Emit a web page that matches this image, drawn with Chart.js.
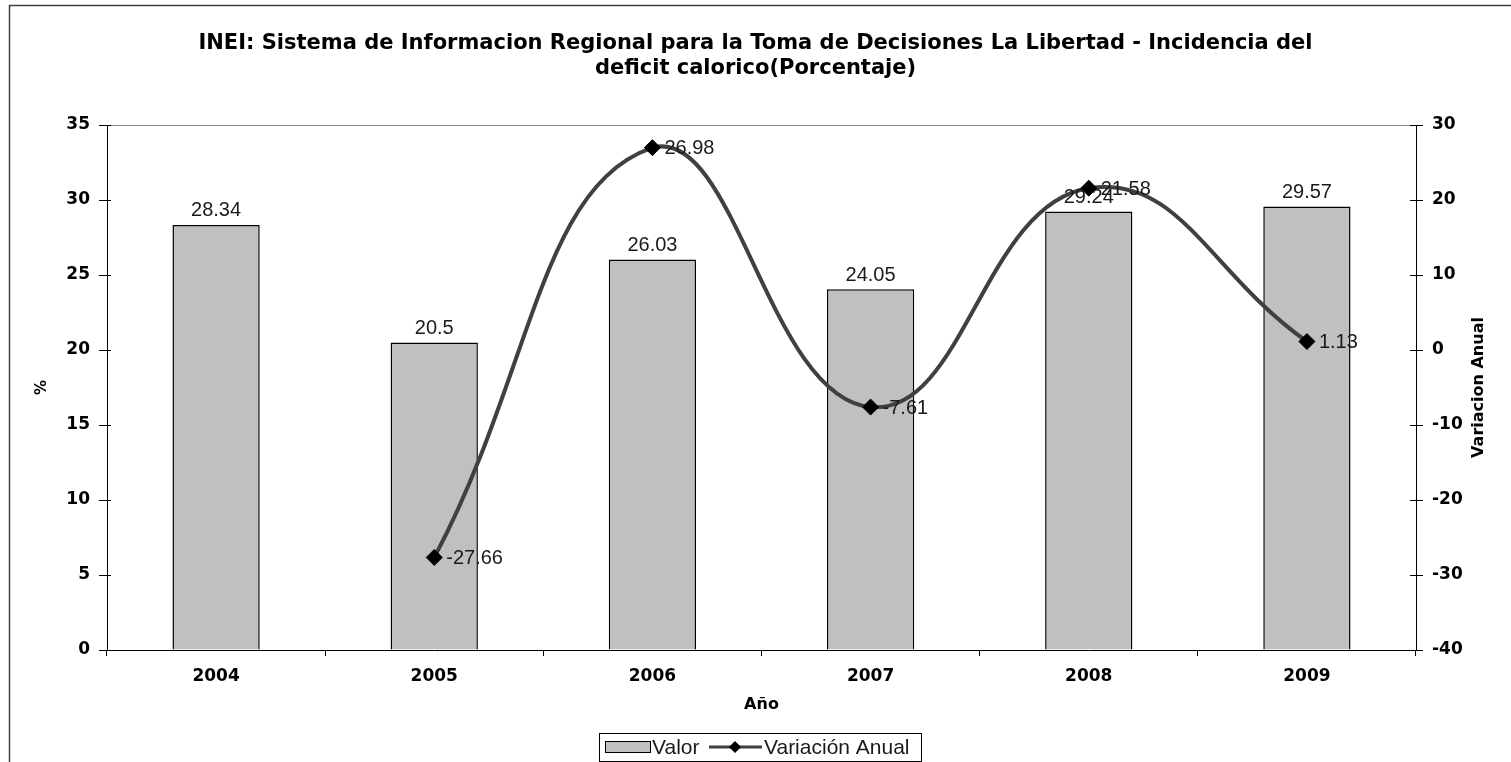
<!DOCTYPE html>
<html>
<head>
<meta charset="utf-8">
<script src="https://cdn.jsdelivr.net/npm/chart.js@4/dist/chart.umd.min.js"></script>
<style>
  body { margin: 0; background: #fff; }
</style>
</head>
<body>
<canvas id="grafico" width="1511" height="762"></canvas>
<script>
// datos del grafico
const anios = ['2004', '2005', '2006', '2007', '2008', '2009']
const valores = [28.34, 20.5, 26.03, 24.05, 29.24, 29.57]
const variacion = [null, -27.66, 26.98, -7.61, 21.58, 1.13]
const titulo = ['INEI: Sistema de Informacion Regional para la Toma de Decisiones La Libertad - Incidencia del',
    'deficit calorico(Porcentaje)']
const tituloDerecho = 'Variacion Anual'

const boldFont = 'DejaVu Sans'
const plainFont = 'Liberation Sans'

// borde exterior, etiquetas de datos y leyenda
const extras = {
    id: 'extras',
    beforeDraw(chart) {
        const c = chart.ctx
        c.save()
        c.fillStyle = '#fff'
        c.fillRect(0, 0, chart.width, chart.height)
        c.strokeStyle = '#404040'
        c.lineWidth = 1.5
        c.strokeRect(9.5, 5.5, chart.width + 20, chart.height + 20)
        c.restore()
    },
    afterDatasetsDraw(chart) {
        const c = chart.ctx
        c.save()
        c.font = '20px "' + plainFont + '"'
        c.fillStyle = '#1a1a1a'
        c.textBaseline = 'middle'

        const barMeta = chart.getDatasetMeta(0)
        c.textAlign = 'center'
        barMeta.data.forEach(function (bar, i) {
            c.fillText(String(chart.data.datasets[0].data[i]), bar.x, bar.y - 14)
        })

        const lineMeta = chart.getDatasetMeta(1)
        c.textAlign = 'left'
        lineMeta.data.forEach(function (pt, i) {
            const v = chart.data.datasets[1].data[i]
            if (v === null) return
            c.fillText(String(v), pt.x + 12, pt.y + 1)
        })
        c.restore()
    },
    afterDraw(chart) {
        const c = chart.ctx
        const ds = chart.data.datasets
        const area = chart.chartArea
        c.save()

        // marcas de eje que cruzan hacia adentro
        c.strokeStyle = '#000'
        c.lineWidth = 1
        const yl = chart.scales.y
        yl.ticks.forEach(function (t, i) {
            const py = Math.round(yl.getPixelForTick(i)) + 0.5
            c.beginPath(); c.moveTo(area.left, py); c.lineTo(area.left + 4, py); c.stroke()
        })
        const yr = chart.scales.y2
        yr.ticks.forEach(function (t, i) {
            const py = Math.round(yr.getPixelForTick(i)) + 0.5
            c.beginPath(); c.moveTo(area.right - 6, py); c.lineTo(area.right, py); c.stroke()
        })

        // titulo del eje derecho, girado como el izquierdo
        c.save()
        c.translate(1479, (area.top + area.bottom) / 2)
        c.rotate(-Math.PI / 2)
        c.font = 'bold 16px "' + boldFont + '"'
        c.fillStyle = '#000'
        c.textAlign = 'center'
        c.textBaseline = 'middle'
        c.fillText(tituloDerecho, 0, 0)
        c.restore()

        // leyenda con recuadro
        c.strokeStyle = '#000'
        c.lineWidth = 1
        c.strokeRect(599.5, 733.5, 322, 28)

        c.fillStyle = ds[0].backgroundColor
        c.fillRect(605.5, 741.5, 45, 11)
        c.strokeRect(605.5, 741.5, 45, 11)

        c.strokeStyle = ds[1].borderColor
        c.lineWidth = 3
        c.beginPath()
        c.moveTo(709, 747)
        c.lineTo(762, 747)
        c.stroke()
        c.fillStyle = '#000'
        c.beginPath()
        c.moveTo(735, 741)
        c.lineTo(741, 747)
        c.lineTo(735, 753)
        c.lineTo(729, 747)
        c.closePath()
        c.fill()

        c.font = '21px "' + plainFont + '"'
        c.fillStyle = '#1a1a1a'
        c.textBaseline = 'middle'
        c.textAlign = 'left'
        c.fillText(ds[0].label, 652, 748)
        c.fillText(ds[1].label, 764, 748)
        c.restore()
    }
}

const ctx = document.getElementById('grafico')
window.chart = new Chart(ctx, {
    data: {
        labels: anios,
        datasets: [{
            type: 'bar',
            label: 'Valor',
            yAxisID: 'y',
            data: valores,
            order: 1,
            backgroundColor: '#c0c0c0',
            borderColor: '#000',
            borderWidth: 1.5,
            barPercentage: 0.4,
            categoryPercentage: 1
        },
            {
                type: 'line',
                label: 'Variación Anual',
                yAxisID: 'y2',
                data: variacion,
                order: 0,
                borderColor: '#404040',
                borderWidth: 4,
                tension: 0.45,
                fill: false,
                pointStyle: 'rectRot',
                pointRadius: 8,
                pointBackgroundColor: '#000',
                pointBorderColor: '#000',
                pointBorderWidth: 1
            }
        ]
    },
    options: {
        responsive: false,
        animation: false,
        layout: { padding: 0 },
        plugins: {
            legend: { display: false },
            tooltip: { enabled: false },
            title: {
                display: true,
                text: titulo,
                color: '#000',
                font: { family: boldFont, weight: 'bold', size: 21, lineHeight: 25 / 21 },
                padding: { top: 31.5, bottom: 43.5 }
            }
        },
        scales: {
            x: {
                offset: true,
                grid: { offset: true, drawOnChartArea: false, tickLength: 6, color: '#000', tickColor: '#000' },
                border: { color: '#000', width: 1 },
                ticks: { color: '#000', padding: 10, font: { family: boldFont, weight: 'bold', size: 17 } },
                title: {
                    display: true, text: 'Año', color: '#000',
                    font: { family: boldFont, weight: 'bold', size: 16 },
                    padding: { top: 0, bottom: 48 }
                },
                afterFit(scale) { scale.height = 112 }
            },
            y: {
                type: 'linear',
                position: 'left',
                min: 0,
                max: 35,
                ticks: { stepSize: 5, color: '#000', padding: 9, font: { family: boldFont, weight: 'bold', size: 17 } },
                grid: { drawOnChartArea: false, tickLength: 8, color: '#000', tickColor: '#000' },
                border: { color: '#000', width: 1 },
                title: {
                    display: true, text: '%', color: '#000',
                    font: { family: boldFont, weight: 'bold', size: 15 },
                    padding: { top: 33, bottom: 0 }
                },
                afterFit(scale) { scale.width = 107 }
            },
            y2: {
                type: 'linear',
                position: 'right',
                min: -40,
                max: 30,
                ticks: { stepSize: 10, color: '#000', padding: 9, font: { family: boldFont, weight: 'bold', size: 17 } },
                grid: {
                    drawOnChartArea: true,
                    tickLength: 7,
                    tickColor: '#000',
                    color: function (c) { return c.tick && c.tick.value === 30 ? '#8c8c8c' : 'rgba(0,0,0,0)' }
                },
                border: { color: '#000', width: 1 },
                title: { display: false },
                afterFit(scale) { scale.width = 95 }
            }
        }
    },
    plugins: [extras]
})
</script>
</body>
</html>
